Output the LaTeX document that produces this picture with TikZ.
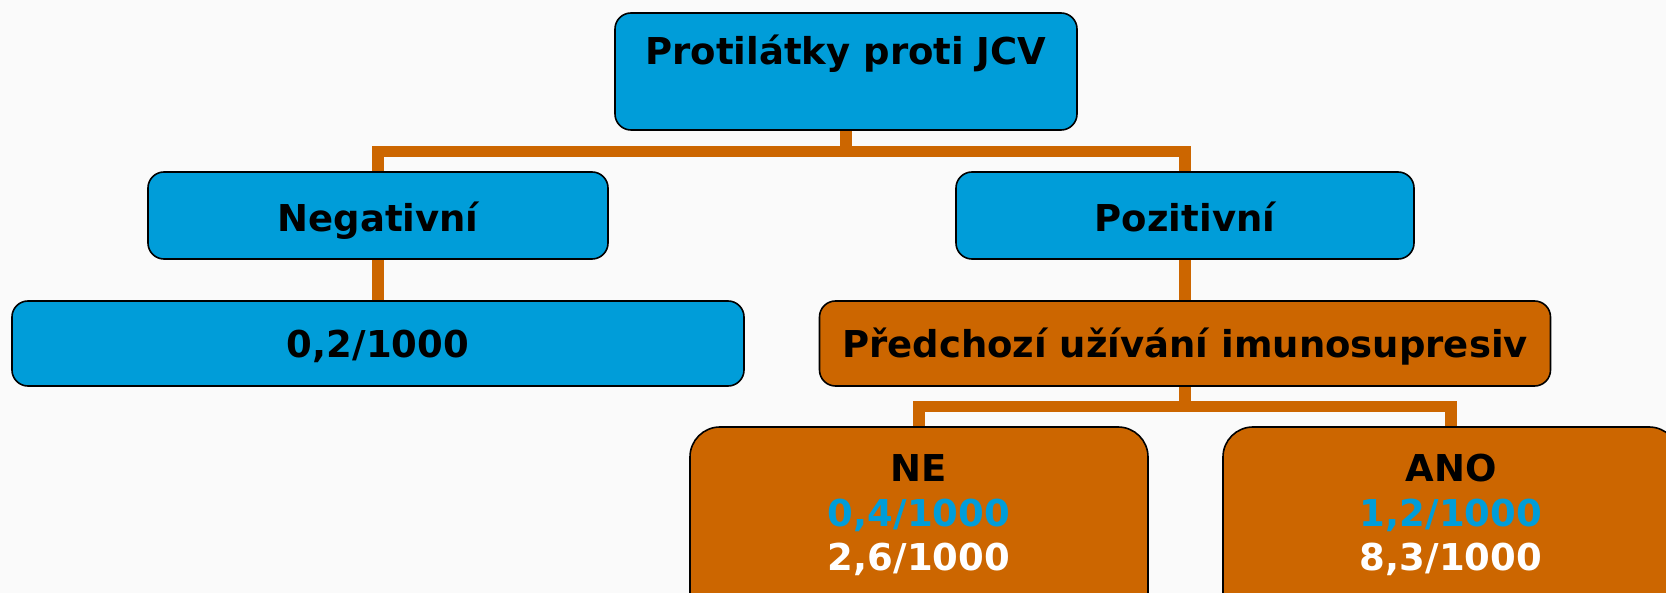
\documentclass[tikz,border=0pt]{standalone}
\usepackage{fontspec}
\setmainfont{DejaVu Sans}
\pgfdeclarelayer{background}
\pgfsetlayers{background,main}
\definecolor{jblue}{HTML}{009DD9}
\definecolor{jorange}{HTML}{CC6600}
\definecolor{bgcol}{HTML}{FAFAFA}
\tikzset{
  box/.style={draw=black, line width=1.6pt, rectangle, inner sep=0pt},
  bluebox/.style={box, fill=jblue, rounded corners=16pt},
  orangebox/.style={box, fill=jorange, rounded corners=16pt},
  bigbox/.style={box, fill=jorange, rounded corners=30pt},
  conn/.style={draw=jorange, line width=11.5pt},
  txt/.style={font=\bfseries\fontsize{37}{44}\selectfont, anchor=base, inner sep=0pt}
}
\begin{document}
\begin{tikzpicture}[x=1pt,y=-1pt]
\useasboundingbox (0,0) rectangle (1666,593);
% boxes
\node[bluebox, minimum width=462pt, minimum height=117pt] (top) at (846,71.5) {};
\node[bluebox, minimum width=460pt, minimum height=87pt] (neg) at (378,215.5) {};
\node[bluebox, minimum width=458pt, minimum height=87pt] (pos) at (1185,215.5) {};
\node[bluebox, minimum width=732pt, minimum height=85pt] (p02) at (378,343.5) {};
\node[orangebox, minimum width=731pt, minimum height=85pt] (pred) at (1185,343.5) {};
\node[bigbox, minimum width=458pt, minimum height=200pt] (ne) at (919,527) {};
\node[bigbox, minimum width=456pt, minimum height=200pt] (ano) at (1451,527) {};
% texts
\node[txt] (ttop) at (846,65) {Protilátky proti JCV};
\node[txt] (tneg) at (378,232) {Negativní};
\node[txt] (tpos) at (1185,232) {Pozitivní};
\node[txt] (tp02) at (378,358) {0,2/1000};
\node[txt] (tpred) at (1185,358) {Předchozí užívání imunosupresiv};
\node[txt] (tne1) at (919,482) {NE};
\node[txt, text=jblue] (tne2) at (919,526) {0,4/1000};
\node[txt, text=white] (tne3) at (919,570) {2,6/1000};
\node[txt] (tano1) at (1451,482) {ANO};
\node[txt, text=jblue] (tano2) at (1451,526) {1,2/1000};
\node[txt, text=white] (tano3) at (1451,570) {8,3/1000};
% connectors
\coordinate (j1) at (846,151.5);
\coordinate (j2) at (1185,406.5);
\begin{pgfonlayer}{background}
\fill[bgcol] (0,0) rectangle (1666,593);
\draw[conn] (top.south) -- (j1);
\draw[conn] (neg.north) |- (j1);
\draw[conn] (pos.north) |- (j1);
\draw[conn] (neg.south) -- (p02.north);
\draw[conn] (pos.south) -- (pred.north);
\draw[conn] (pred.south) -- (j2);
\draw[conn] (ne.north) |- (j2);
\draw[conn] (ano.north) |- (j2);
\end{pgfonlayer}
\end{tikzpicture}
\end{document}
